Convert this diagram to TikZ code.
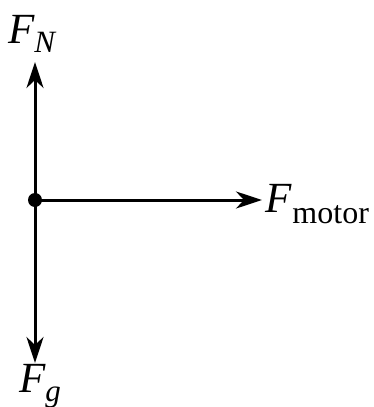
\documentclass[tikz,border=0pt]{standalone}
\usepackage{fontspec}
\setmainfont{Liberation Serif}
\usetikzlibrary{arrows.meta}
\begin{document}
\begin{tikzpicture}[x=1pt,y=-1pt,
  force/.style={line width=3pt,-{Stealth[length=26pt,width=17pt,inset=8pt]}},
  lbl/.style={anchor=base west,inner sep=0pt,font=\fontsize{43}{43}\selectfont}]
\useasboundingbox (0,0) rectangle (374,407);
\coordinate (o) at (35,200);
\coordinate (ntip) at (35,62);
\coordinate (gtip) at (35,363);
\coordinate (mtip) at (262,200);
\draw[force] (o) -- (ntip);
\draw[force] (o) -- (gtip);
\draw[force] (o) -- (mtip);
\fill (o) circle (7);
\node[lbl] (fn) at (8,43) {\itshape F\raisebox{-9pt}{\fontsize{31}{31}\selectfont\itshape N}};
\node[lbl] (fg) at (19,392) {\itshape F\raisebox{-9pt}{\fontsize{31}{31}\selectfont\itshape g}};
\node[lbl] (fm) at (265,212) {\itshape F\kern1pt\raisebox{-11pt}{\fontsize{32}{32}\selectfont\upshape motor}};
\end{tikzpicture}
\end{document}
